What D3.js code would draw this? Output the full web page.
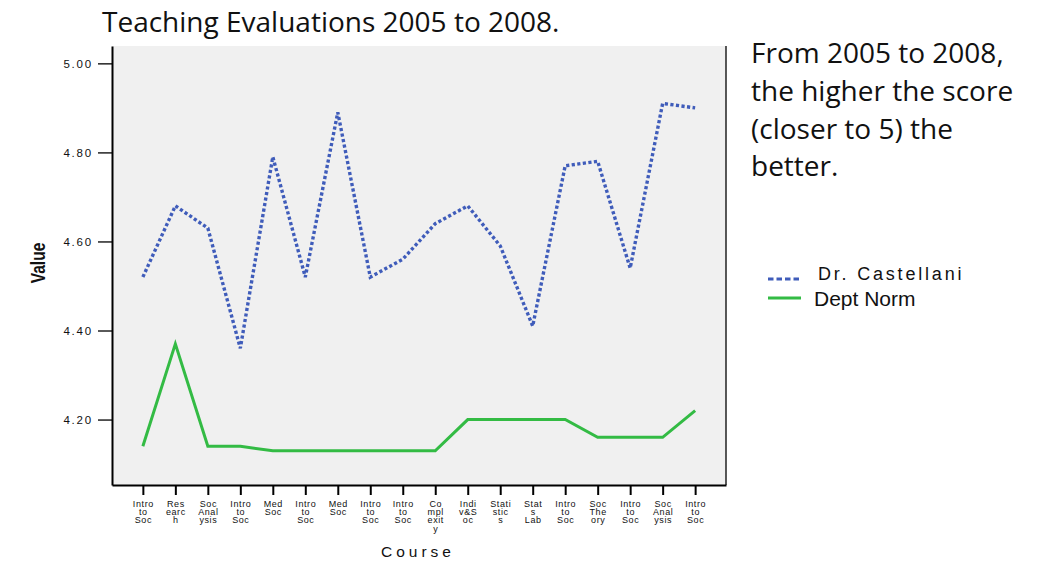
<!DOCTYPE html>
<html>
<head>
<meta charset="utf-8">
<script src="https://cdn.jsdelivr.net/npm/d3@7"></script>
<style>
  html, body { margin: 0; padding: 0; background: #ffffff; }
  svg { display: block; }
</style>
</head>
<body>
<svg id="chart" width="1046" height="564"></svg>
<script>
// ---- data ----
const categories = ["Intro to Soc","Research","Soc Analysis","Intro to Soc","Med Soc","Intro to Soc","Med Soc","Intro to Soc","Intro to Soc","Complexity","Indiv&Soc","Statistics","Stats Lab","Intro to Soc","Soc Theory","Intro to Soc","Soc Analysis","Intro to Soc"];
const tickLabels = [["Intro","to","Soc"],["Res","earc","h"],["Soc","Anal","ysis"],["Intro","to","Soc"],["Med","Soc"],["Intro","to","Soc"],["Med","Soc"],["Intro","to","Soc"],["Intro","to","Soc"],["Co","mpl","exit","y"],["Indi","v&S","oc"],["Stati","stic","s"],["Stat","s","Lab"],["Intro","to","Soc"],["Soc","The","ory"],["Intro","to","Soc"],["Soc","Anal","ysis"],["Intro","to","Soc"]];
const castellani = [4.52,4.68,4.63,4.36,4.79,4.52,4.89,4.52,4.56,4.64,4.68,4.59,4.41,4.77,4.78,4.54,4.91,4.90];
const deptNorm = [4.14,4.37,4.14,4.14,4.13,4.13,4.13,4.13,4.13,4.13,4.20,4.20,4.20,4.20,4.16,4.16,4.16,4.22];
const yTicks = [4.20,4.40,4.60,4.80,5.00];
const seriesNames = ["Dr. Castellani","Dept Norm"];
const titleText = "Teaching Evaluations 2005 to 2008.";
const noteLines = ["From 2005 to 2008,","the higher the score","(closer to 5) the","better."];

// ---- layout ----
const svg = d3.select("#chart");
const L = 112, R = 726, T = 46, B = 485;
const blue = "#3f5cba", green = "#33bb44";

const x = d3.scalePoint().domain(d3.range(categories.length)).range([L, R]).padding(0.95);
const y = d3.scaleLinear().domain([4.053, 5.039]).range([B, T]);

// plot background
svg.append("rect").attr("x", L).attr("y", T).attr("width", R - L).attr("height", B - T).attr("fill", "#f0f0f0");
// right border
svg.append("line").attr("x1", R).attr("x2", R).attr("y1", T).attr("y2", B).attr("stroke", "#222").attr("stroke-width", 1.5);

// y axis
const yAxis = svg.append("g").attr("transform", `translate(${L},0)`)
  .call(d3.axisLeft(y).tickValues(yTicks).tickFormat(d3.format(".2f")).tickSize(14).tickPadding(5).tickSizeOuter(0));
yAxis.select(".domain").attr("stroke", "#000").attr("stroke-width", 2);
yAxis.selectAll(".tick line").attr("stroke", "#000").attr("stroke-width", 1.3);
yAxis.selectAll(".tick text").attr("font-family", "Liberation Sans, Arial, sans-serif").attr("font-size", 11.5).attr("letter-spacing", 1.8).attr("fill", "#111");

// x axis
const xAxis = svg.append("g").attr("transform", `translate(0,${B})`)
  .call(d3.axisBottom(x).tickSize(10).tickFormat("").tickSizeOuter(0));
xAxis.select(".domain").attr("stroke", "#000").attr("stroke-width", 2);
xAxis.selectAll(".tick line").attr("stroke", "#000").attr("stroke-width", 2);
xAxis.selectAll(".tick").each(function(d) {
  const t = d3.select(this).select("text").attr("y", 0).attr("dy", null)
    .attr("font-family", "Liberation Sans, Arial, sans-serif").attr("font-size", 9)
    .attr("letter-spacing", 0.6).attr("fill", "#111");
  t.selectAll("tspan").data(tickLabels[d]).enter().append("tspan")
    .attr("x", 0).attr("y", (s, i) => 22 + i * 8.2).text(s => s);
});

// axis titles
svg.append("text").attr("transform", "translate(45,263) rotate(-90) scale(0.78,1)")
  .attr("text-anchor", "middle").attr("font-family", "Liberation Sans, Arial, sans-serif")
  .attr("font-weight", "bold").attr("font-size", 20).attr("fill", "#111").text("Value");
svg.append("text").attr("x", 418).attr("y", 557).attr("text-anchor", "middle")
  .attr("font-family", "Liberation Sans, Arial, sans-serif").attr("font-size", 15.5)
  .attr("letter-spacing", 4).attr("fill", "#111").text("Course");

// lines
const line = d3.line().x((d, i) => x(i)).y(d => y(d));
svg.append("path").datum(deptNorm).attr("d", line).attr("fill", "none")
  .attr("stroke", green).attr("stroke-width", 3);
svg.append("path").datum(castellani).attr("d", line).attr("fill", "none")
  .attr("stroke", blue).attr("stroke-width", 3.4).attr("stroke-dasharray", "3.2,2.4");

// title
svg.append("text").attr("x", 102).attr("y", 32).attr("font-family", "Open Sans, sans-serif")
  .attr("font-size", 28).attr("fill", "#111").text(titleText);

// note
svg.append("g").selectAll("text").data(noteLines).enter().append("text")
  .attr("x", 751).attr("y", (d, i) => 63 + i * 37.8)
  .attr("font-family", "Open Sans, sans-serif").attr("font-size", 28).attr("fill", "#111")
  .text(d => d);

// legend
const leg = svg.append("g");
leg.append("line").attr("x1", 768).attr("x2", 801).attr("y1", 279).attr("y2", 279)
  .attr("stroke", blue).attr("stroke-width", 3).attr("stroke-dasharray", "5.5,3");
leg.append("text").attr("x", 818).attr("y", 280).attr("font-family", "Liberation Sans, Arial, sans-serif")
  .attr("font-size", 18).attr("letter-spacing", 2.8).attr("fill", "#111").text(seriesNames[0]);
leg.append("line").attr("x1", 768).attr("x2", 801).attr("y1", 298).attr("y2", 298)
  .attr("stroke", green).attr("stroke-width", 3);
leg.append("text").attr("x", 814).attr("y", 306).attr("font-family", "Liberation Sans, Arial, sans-serif")
  .attr("font-size", 21).attr("fill", "#111").text(seriesNames[1]);
</script>
</body>
</html>
